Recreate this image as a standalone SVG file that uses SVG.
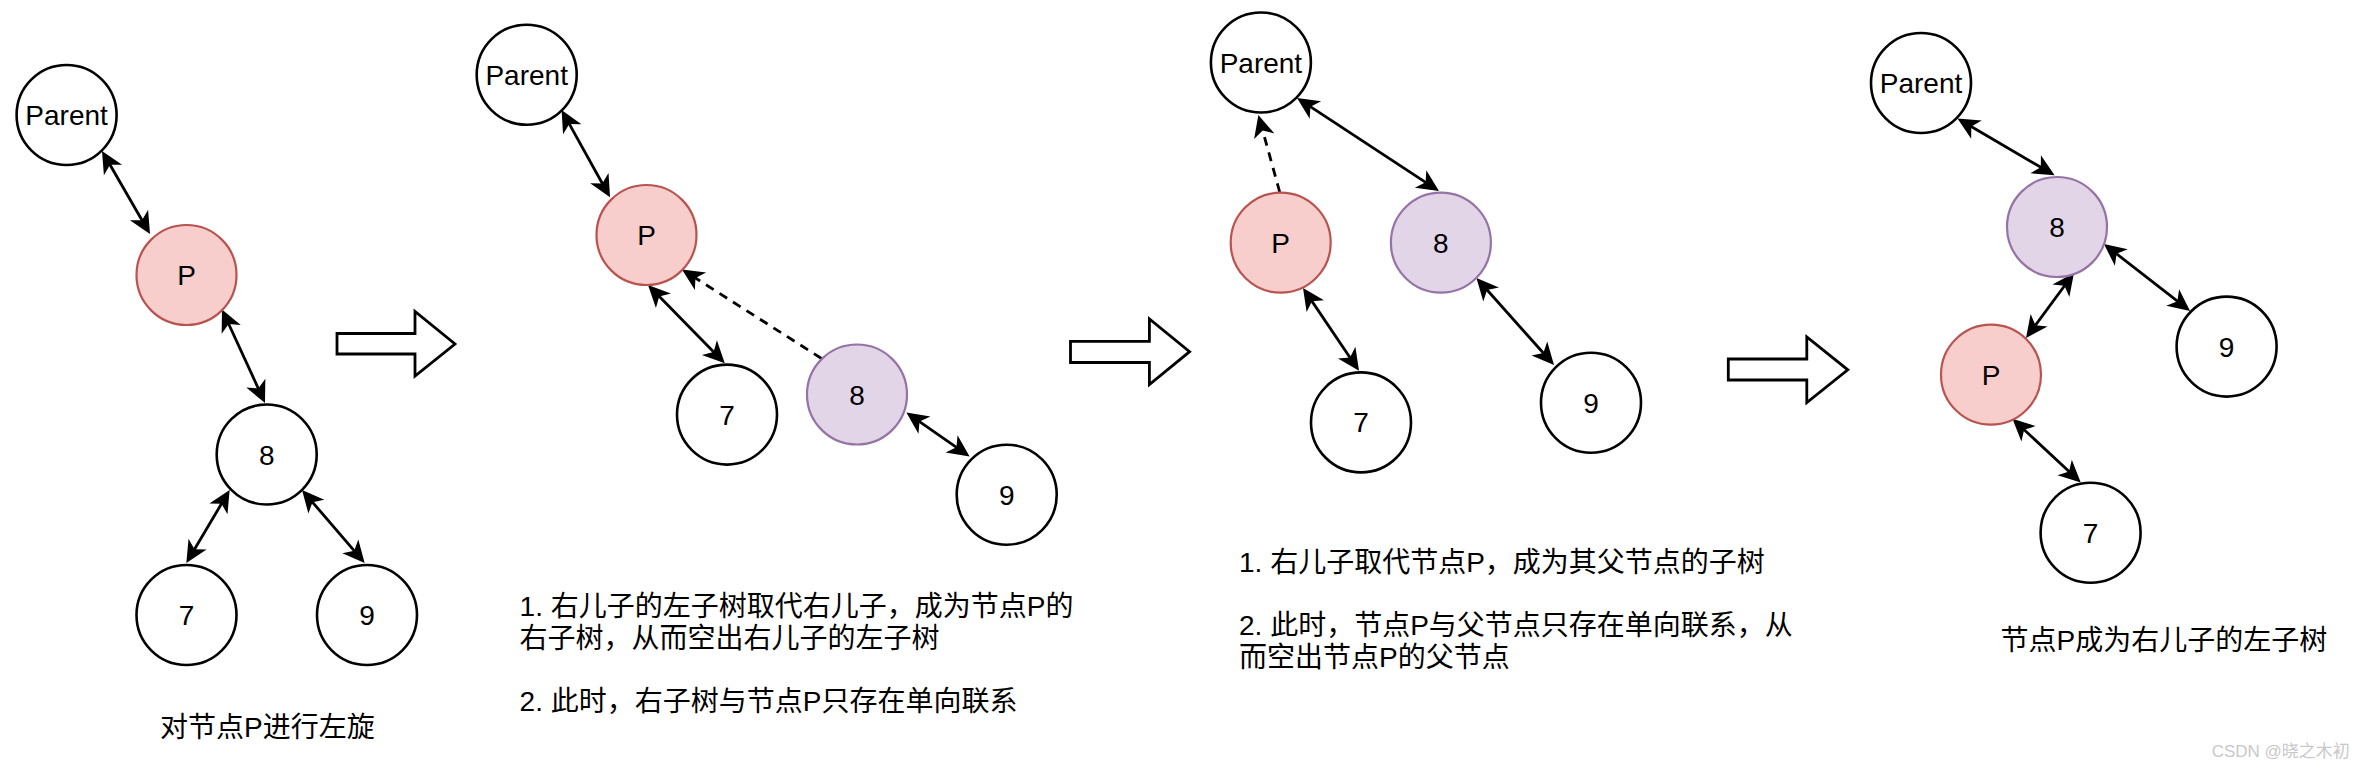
<svg xmlns="http://www.w3.org/2000/svg" width="2362" height="768" viewBox="0 0 2362 768">
<style>
.n{fill:#ffffff;stroke:#000000;stroke-width:2.6}
.p{fill:#f8cecc;stroke:#b85450;stroke-width:2.2}
.e{fill:#e1d5e7;stroke:#9673a6;stroke-width:2.2}
.lb{font-family:"Liberation Sans","Noto Sans CJK SC",sans-serif;font-size:28px;fill:#000000;text-anchor:middle}
.t{font-family:"Liberation Sans","Noto Sans CJK SC",sans-serif;font-size:28px;fill:#000000}
.c{fill:none;stroke:#000000;stroke-width:2.8;marker-start:url(#ah);marker-end:url(#ah)}
.d{fill:none;stroke:#000000;stroke-width:2.8;stroke-dasharray:9 7;marker-end:url(#ah)}
.blk{fill:#ffffff;stroke:#000000;stroke-width:2.8;stroke-linejoin:miter}
</style>
<defs>
<marker id="ah" markerUnits="userSpaceOnUse" viewBox="-18 -12 24 24" refX="0" refY="0" markerWidth="24" markerHeight="24" orient="auto-start-reverse">
<path d="M5,0 L-17,-10.5 L-11,0 L-17,10.5 Z" fill="#000000" stroke="none"/>
</marker>
</defs>
<rect width="2362" height="768" fill="#ffffff"/>

<g id="connectors">
<line class="c" x1="104.5" y1="155.3" x2="147.5" y2="229.7"/>
<line class="c" x1="224.1" y1="314.0" x2="262.9" y2="398.5"/>
<line class="c" x1="227.1" y1="494.3" x2="188.9" y2="558.7"/>
<line class="c" x1="305.3" y1="493.8" x2="361.4" y2="559.2"/>
<line class="c" x1="564.0" y1="114.4" x2="607.6" y2="193.0"/>
<line class="c" x1="651.5" y1="288.6" x2="721.3" y2="359.8"/>
<line class="d" x1="821.5" y1="358.5" x2="686.2" y2="272.1"/>
<line class="c" x1="910.5" y1="415.3" x2="965.5" y2="453.6"/>
<line class="d" x1="1279.7" y1="192" x2="1259.7" y2="119.8"/>
<line class="c" x1="1301.2" y1="100.7" x2="1434.8" y2="188.3"/>
<line class="c" x1="1305.8" y1="292.1" x2="1356.2" y2="366.7"/>
<line class="c" x1="1479.8" y1="281.7" x2="1550.7" y2="361.3"/>
<line class="c" x1="1961.8" y1="121.0" x2="2050.3" y2="172.8"/>
<line class="c" x1="2071.0" y1="277.0" x2="2029.0" y2="334.0"/>
<line class="c" x1="2107.9" y1="247.1" x2="2186.1" y2="307.9"/>
<line class="c" x1="2016.1" y1="422.2" x2="2077.1" y2="479.1"/>
</g>

<g id="arrow1"><polygon class="blk" points="337,333.5 415,333.5 415,311.5 455,344 415,376 415,354 337,354"/></g>
<g id="arrow2"><polygon class="blk" points="1070.5,341.4 1149.4,341.4 1149.4,319 1189.6,351.7 1149.4,384.5 1149.4,362.5 1070.5,362.5"/></g>
<g id="arrow3"><polygon class="blk" points="1728.3,359 1806.8,359 1806.8,337 1847.8,369.8 1806.8,402.6 1806.8,380 1728.3,380"/></g>

<g id="s1-parent"><circle class="n" cx="66.6" cy="115" r="50"/><text class="lb" x="66.6" y="125">Parent</text></g>
<g id="s1-p"><circle class="p" cx="186.5" cy="275" r="50"/><text class="lb" x="186.5" y="285">P</text></g>
<g id="s1-8"><circle class="n" cx="266.7" cy="454.5" r="50"/><text class="lb" x="266.7" y="464.5">8</text></g>
<g id="s1-7"><circle class="n" cx="186.5" cy="615" r="50"/><text class="lb" x="186.5" y="625">7</text></g>
<g id="s1-9"><circle class="n" cx="367" cy="615" r="50"/><text class="lb" x="367" y="625">9</text></g>
<g id="s1-caption"><text class="t" x="160" y="736.5">对节点P进行左旋</text></g>

<g id="s2-parent"><circle class="n" cx="526.7" cy="74.7" r="50"/><text class="lb" x="526.7" y="84.7">Parent</text></g>
<g id="s2-p"><circle class="p" cx="646.5" cy="235" r="50"/><text class="lb" x="646.5" y="245">P</text></g>
<g id="s2-7"><circle class="n" cx="727" cy="414.6" r="50"/><text class="lb" x="727" y="424.6">7</text></g>
<g id="s2-8"><circle class="e" cx="857" cy="394.5" r="50"/><text class="lb" x="857" y="404.5">8</text></g>
<g id="s2-9"><circle class="n" cx="1006.7" cy="494.7" r="50"/><text class="lb" x="1006.7" y="504.7">9</text></g>
<g id="s2-caption">
<text class="t" x="519.6" y="615.5">1. 右儿子的左子树取代右儿子，成为节点P的</text>
<text class="t" x="519.6" y="647.5">右子树，从而空出右儿子的左子树</text>
<text class="t" x="519.6" y="710.5">2. 此时，右子树与节点P只存在单向联系</text>
</g>

<g id="s3-parent"><circle class="n" cx="1260.9" cy="62.5" r="50"/><text class="lb" x="1260.9" y="72.5">Parent</text></g>
<g id="s3-p"><circle class="p" cx="1280.7" cy="242.7" r="50"/><text class="lb" x="1280.7" y="252.7">P</text></g>
<g id="s3-8"><circle class="e" cx="1440.9" cy="242.7" r="50"/><text class="lb" x="1440.9" y="252.7">8</text></g>
<g id="s3-7"><circle class="n" cx="1361" cy="422.4" r="50"/><text class="lb" x="1361" y="432.4">7</text></g>
<g id="s3-9"><circle class="n" cx="1591" cy="402.8" r="50"/><text class="lb" x="1591" y="412.8">9</text></g>
<g id="s3-caption">
<text class="t" x="1239" y="571.5">1. 右儿子取代节点P，成为其父节点的子树</text>
<text class="t" x="1239" y="635">2. 此时，节点P与父节点只存在单向联系，从</text>
<text class="t" x="1239" y="667">而空出节点P的父节点</text>
</g>

<g id="s4-parent"><circle class="n" cx="1921" cy="83" r="50"/><text class="lb" x="1921" y="93">Parent</text></g>
<g id="s4-8"><circle class="e" cx="2057" cy="227" r="50"/><text class="lb" x="2057" y="237">8</text></g>
<g id="s4-p"><circle class="p" cx="1991" cy="374.7" r="50"/><text class="lb" x="1991" y="384.7">P</text></g>
<g id="s4-9"><circle class="n" cx="2226.6" cy="346.6" r="50"/><text class="lb" x="2226.6" y="356.6">9</text></g>
<g id="s4-7"><circle class="n" cx="2090.6" cy="532.7" r="50"/><text class="lb" x="2090.6" y="542.7">7</text></g>
<g id="s4-caption"><text class="t" x="2000.6" y="649.5">节点P成为右儿子的左子树</text></g>

<g id="watermark"><text x="2211.7" y="757" font-family="Liberation Sans,'Noto Sans CJK SC',sans-serif" font-size="17" fill="#c8c8c8">CSDN @晓之木初</text></g>
</svg>
